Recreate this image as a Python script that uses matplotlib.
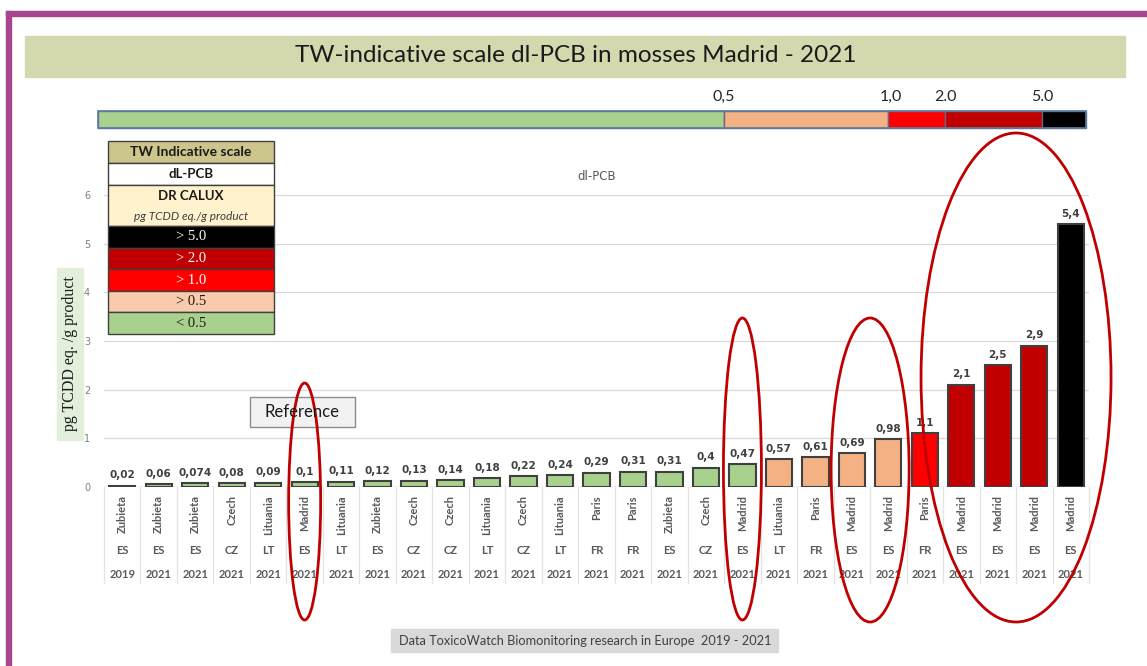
import numpy as np
import matplotlib.pyplot as plt
from matplotlib.patches import Rectangle, Ellipse

# dl-PCB results (DR CALUX, pg TCDD eq./g product), sorted low -> high
cities = ['Zubieta', 'Zubieta', 'Zubieta', 'Czech', 'Lituania', 'Madrid', 'Lituania',
          'Zubieta', 'Czech', 'Czech', 'Lituania', 'Czech', 'Lituania', 'Paris', 'Paris',
          'Zubieta', 'Czech', 'Madrid', 'Lituania', 'Paris', 'Madrid', 'Madrid', 'Paris',
          'Madrid', 'Madrid', 'Madrid', 'Madrid']
countries = ['ES', 'ES', 'ES', 'CZ', 'LT', 'ES', 'LT', 'ES', 'CZ', 'CZ', 'LT', 'CZ', 'LT',
             'FR', 'FR', 'ES', 'CZ', 'ES', 'LT', 'FR', 'ES', 'ES', 'FR', 'ES', 'ES', 'ES', 'ES']
years = ['2019'] + ['2021'] * 26
values = [0.02, 0.06, 0.074, 0.08, 0.09, 0.1, 0.11, 0.12, 0.13, 0.14, 0.18, 0.22, 0.24,
          0.29, 0.31, 0.31, 0.4, 0.47, 0.57, 0.61, 0.69, 0.98, 1.1, 2.1, 2.5, 2.9, 5.4]
value_labels = [str(v).replace('.', ',') for v in values]

scale_limits = [0.5, 1.0, 2.0, 5.0]
scale_labels = ['0,5', '1,0', '2.0', '5.0']
scale_colors = ['#a9d18e', '#f4b183', '#ff0000', '#c00000', '#000000']
legend_rows = ['> 5.0', '> 2.0', '> 1.0', '> 0.5', '< 0.5']
legend_colors = ['#000000', '#c00000', '#ff0000', '#f8cbad', '#a9d18e']
legend_text = ['white', 'white', 'white', '#1a1a1a', '#1a1a1a']

# samples circled on the chart (bar indices)
circled = [[5], [17], [20, 21], [23, 24, 25, 26]]


def bar_color(v):
    return scale_colors[int(np.searchsorted(scale_limits, v, side='right'))]


W, H = 1147, 666
fig = plt.figure(figsize=(W / 100, H / 100), dpi=100)

# pixel-space layer behind the chart
bg = fig.add_axes([0, 0, 1, 1], zorder=0)
bg.set_xlim(0, W)
bg.set_ylim(H, 0)
bg.axis('off')

bg.add_patch(Rectangle((6, 11), 5, H, color='#a6468c'))
bg.add_patch(Rectangle((6, 11), W, 5, color='#a6468c'))
bg.add_patch(Rectangle((25, 36), 1100, 41, color='#d3d8ae'))
bg.text(576, 56, 'TW-indicative scale dl-PCB in mosses Madrid - 2021', ha='center',
        va='center', fontsize=17.5, family='Lato', color='#1a1a1a')

# indicative scale bar
bar_x0, bar_x1 = 98, 1086
seg_edges = [98, 724, 888, 945, 1042, 1086]
for i, c in enumerate(scale_colors):
    bg.add_patch(Rectangle((seg_edges[i], 111), seg_edges[i + 1] - seg_edges[i], 17,
                           facecolor=c, edgecolor='#6d6285', lw=1))
bg.add_patch(Rectangle((bar_x0, 111), bar_x1 - bar_x0, 17, fill=False,
                       edgecolor='#5a7ca3', lw=1.2))
for x, s in zip(seg_edges[1:5], scale_labels):
    bg.text(x + (3 if s == '1,0' else 0), 97, s, ha='center', va='center', fontsize=11.5,
            family='Lato', color='#262626')

bg.add_patch(Rectangle((57, 268), 26, 172, color='#e2efda'))
bg.text(70, 354, 'pg TCDD eq. /g product', rotation=90, ha='center', va='center',
        fontsize=11.5, family='Liberation Serif', color='#1a1a1a')

bg.add_patch(Rectangle((391, 629), 387, 23, color='#d9d9d9'))
bg.text(399, 641, 'Data ToxicoWatch Biomonitoring research in Europe  2019 - 2021',
        ha='left', va='center', fontsize=9.2, family='Lato', color='#404040')

# main bar chart
ax = fig.add_axes([104 / W, (H - 487) / H, 985 / W, 292 / H], zorder=1)
ax.patch.set_alpha(0)
x = np.arange(len(values))
ax.bar(x, values, width=0.72, color=[bar_color(v) for v in values],
       edgecolor='#404040', linewidth=1.5, zorder=3)
for xi, v, s in zip(x, values, value_labels):
    ax.annotate(s, (xi, v), xytext=(0, 4), textcoords='offset points', ha='center',
                va='bottom', fontsize=7.5, fontweight='bold', color='#404040',
                family='DejaVu Sans')
ax.set_xlim(-0.5, len(values) - 0.5)
ax.set_ylim(0, 6)
ax.set_yticks(range(7))
ax.grid(axis='y', color='#d9d9d9', lw=0.9, zorder=0)
ax.set_axisbelow(True)
ax.tick_params(axis='y', length=0, pad=10, labelsize=7, labelcolor='#7f7f7f')
ax.tick_params(axis='x', length=0, labelbottom=False)
for sp in ax.spines.values():
    sp.set_visible(False)
ax.axhline(0, color='#d9d9d9', lw=0.9)
ax.set_title('dl-PCB', fontsize=8.5, color='#595959', pad=0, y=1.05)

trans = ax.get_xaxis_transform()
lab = dict(transform=trans, fontsize=8, color='#595959', fontweight='bold', family='Lato')
for xi, c, k, yr in zip(x, cities, countries, years):
    ax.text(xi, -8 / 292, c, rotation=90, ha='center', va='top', **lab)
    ax.text(xi, -64 / 292, k, ha='center', va='center', **lab)
    ax.text(xi, -88 / 292, yr, ha='center', va='center', **lab)
for xb in np.arange(-0.5, len(values), 1.0):
    ax.plot([xb, xb], [0, -96 / 292], transform=trans, color='#e3e3e3', lw=0.9,
            clip_on=False)

# pixel-space layer on top: legend table, callout, circles
fg = fig.add_axes([0, 0, 1, 1], zorder=2)
fg.set_xlim(0, W)
fg.set_ylim(H, 0)
fg.axis('off')

tx0, tw = 108, 166
fg.add_patch(Rectangle((tx0, 141), tw, 22, facecolor='#cdc68c', edgecolor='#404040', lw=1))
fg.text(tx0 + tw / 2, 152, 'TW Indicative scale', ha='center', va='center', fontsize=10,
        fontweight='bold', family='Lato', color='#1a1a1a')
fg.add_patch(Rectangle((tx0, 163), tw, 22, facecolor='white', edgecolor='#404040', lw=1))
fg.text(tx0 + tw / 2, 174, 'dL-PCB', ha='center', va='center', fontsize=9.5,
        fontweight='bold', family='Lato', color='#1a1a1a')
fg.add_patch(Rectangle((tx0, 185), tw, 41, facecolor='#fff2cc', edgecolor='#404040', lw=1))
fg.text(tx0 + tw / 2, 196, 'DR CALUX', ha='center', va='center', fontsize=9.5,
        fontweight='bold', family='Lato', color='#1a1a1a')
fg.text(tx0 + tw / 2, 216, 'pg TCDD eq./g product', ha='center', va='center', fontsize=8.5,
        style='italic', family='Lato', color='#404040')
row_h = (334 - 226) / len(legend_rows)
for i, (s, c, tc) in enumerate(zip(legend_rows, legend_colors, legend_text)):
    y0 = 226 + i * row_h
    fg.add_patch(Rectangle((tx0, y0), tw, row_h, facecolor=c, edgecolor='#404040', lw=1))
    fg.text(tx0 + tw / 2, y0 + row_h / 2, s, ha='center', va='center', fontsize=10.5,
            family='Liberation Serif', color=tc)

fg.add_patch(Rectangle((250, 397), 105, 30, facecolor='#f2f2f2', edgecolor='#8c8c8c', lw=1))
fg.text(302, 412, 'Reference', ha='center', va='center', fontsize=12, family='Lato',
        color='#1a1a1a')

# ellipses around the Madrid samples, sized in pixels
ellipse_extent = [(383, 620, 32), (318, 620, 38), (318, 622, 78), (133, 622, 190)]
for idx, (top, bot, w) in zip(circled, ellipse_extent):
    cx = np.mean([ax.transData.transform((i, 0))[0] for i in idx])
    fg.add_patch(Ellipse((cx, (top + bot) / 2), w, bot - top, fill=False,
                         edgecolor='#c00000', lw=2))

fig.savefig('out.png', dpi=100, facecolor='white')
